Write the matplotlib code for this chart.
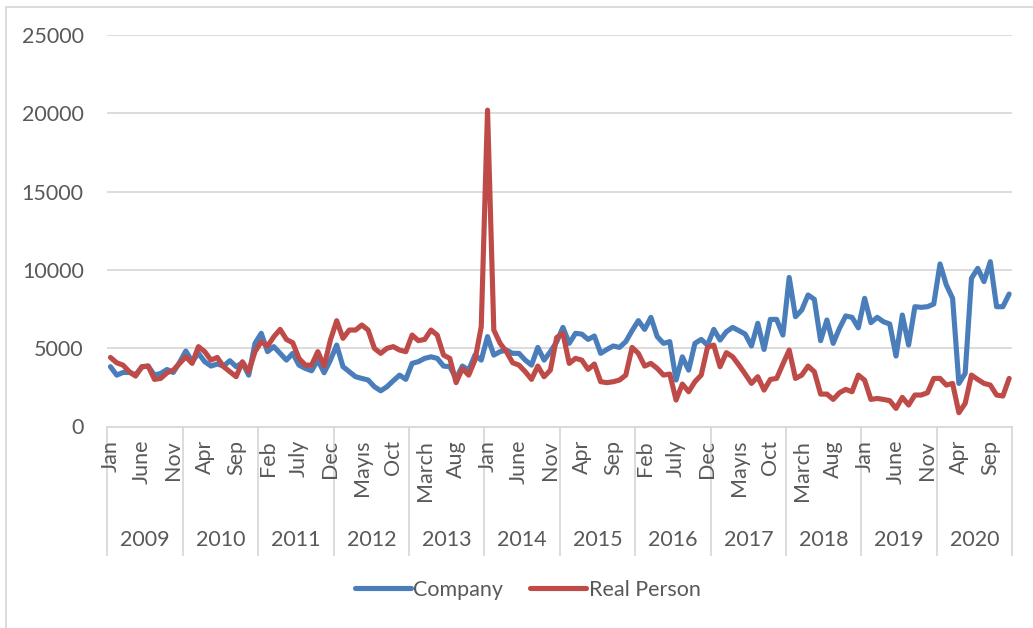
import matplotlib
matplotlib.use("Agg")
import matplotlib.pyplot as plt
import matplotlib.transforms as mtransforms
from matplotlib.patches import Rectangle

plt.rcParams['font.family'] = ['Lato', 'DejaVu Sans']

years = ['2009', '2010', '2011', '2012', '2013', '2014',
         '2015', '2016', '2017', '2018', '2019', '2020']

tick_labels = ['Jan', 'June', 'Nov', 'Apr', 'Sep', 'Feb', 'July', 'Dec', 'Mayıs', 'Oct',
               'March', 'Aug', 'Jan', 'June', 'Nov', 'Apr', 'Sep', 'Feb', 'July', 'Dec',
               'Mayıs', 'Oct', 'March', 'Aug', 'Jan', 'June', 'Nov', 'Apr', 'Sep']

company = [
    3820, 3280, 3450, 3450, 3300, 3800, 3860, 3280, 3390, 3640, 3450, 4100,   # 2009
    4820, 4140, 4670, 4140, 3860, 3990, 3860, 4200, 3820, 4070, 3280, 5310,   # 2010
    5950, 4780, 5100, 4670, 4240, 4670, 3920, 3710, 3560, 4240, 3430, 4240,   # 2011
    5200, 3820, 3500, 3180, 3070, 2970, 2540, 2280, 2540, 2920, 3280, 3010,   # 2012
    4030, 4140, 4350, 4450, 4350, 3860, 3820, 3070, 3860, 3600, 4560, 4240,   # 2013
    5740, 4560, 4780, 4880, 4670, 4670, 4240, 3920, 5050, 4240, 4780, 5400,   # 2014
    6330, 5310, 5950, 5900, 5560, 5780, 4670, 4920, 5140, 5050, 5420, 6120,   # 2015
    6760, 6200, 6970, 5740, 5310, 5420, 2970, 4450, 3600, 5310, 5560, 5200,   # 2016
    6200, 5520, 6050, 6330, 6120, 5900, 5140, 6590, 4920, 6840, 6840, 5840,   # 2017
    9520, 7010, 7440, 8400, 8120, 5480, 6800, 5310, 6270, 7060, 6970, 6300,   # 2018
    8185, 6630, 6970, 6690, 6545, 4500, 7120, 5200, 7650, 7610, 7650, 7820,   # 2019
    10380, 9040, 8185, 2750, 3390, 9460, 10100, 9250, 10525, 7650, 7650, 8460,  # 2020
]

real_person = [
    4410, 4070, 3920, 3500, 3220, 3820, 3860, 3010, 3070, 3430, 3600, 4030,   # 2009
    4455, 4030, 5100, 4780, 4240, 4410, 3820, 3500, 3180, 4135, 3500, 4780,   # 2010
    5415, 5140, 5735, 6200, 5560, 5350, 4350, 3920, 3920, 4780, 3860, 5520,   # 2011
    6755, 5630, 6160, 6160, 6480, 6160, 4990, 4670, 4990, 5100, 4880, 4780,   # 2012
    5840, 5480, 5560, 6160, 5840, 4560, 4350, 2800, 3710, 3280, 4240, 6370,   # 2013
    20200, 6160, 5310, 4780, 4070, 3920, 3500, 3010, 3860, 3180, 3600, 5680,  # 2014
    5945, 4030, 4350, 4240, 3645, 3990, 2860, 2800, 2860, 2965, 3283, 5050,   # 2015
    4670, 3860, 4030, 3710, 3283, 3350, 1690, 2710, 2220, 2860, 3283, 5060,   # 2016
    5200, 3816, 4715, 4455, 3923, 3350, 2750, 3180, 2325, 3006, 3070, 3990,   # 2017
    4880, 3070, 3283, 3860, 3497, 2070, 2070, 1730, 2155, 2370, 2220, 3283,   # 2018
    2960, 1730, 1790, 1730, 1650, 1155, 1860, 1370, 2010, 2010, 2155, 3070,   # 2019
    3070, 2645, 2750, 880, 1475, 3283, 3006, 2750, 2645, 2010, 1945, 3070,    # 2020
]

W, H = 1033, 628
fig = plt.figure(figsize=(W / 100, H / 100), dpi=100)
fig.patch.set_facecolor('white')

left_px, right_px, top_px, bot_px = 107.3, 1012.3, 35.0, 426.5
ax = fig.add_axes([left_px / W, 1 - bot_px / H, (right_px - left_px) / W, (bot_px - top_px) / H])

txt_color = '#595959'
grid_color = '#d9d9d9'
fs = 15.5

n = len(company)
x = list(range(n))
ax.plot(x, company, color='#4a7ebb', lw=3.7, solid_joinstyle='round', solid_capstyle='round',
        label='Company', zorder=3)
ax.plot(x, real_person, color='#be4b48', lw=3.7, solid_joinstyle='round', solid_capstyle='round',
        label='Real Person', zorder=4)

ax.set_xlim(-0.5, n - 0.5)
ax.set_ylim(0, 25000)
ax.set_yticks(range(0, 25001, 5000))
ax.yaxis.grid(True, color=grid_color, lw=1.3)
ax.set_axisbelow(True)
for s in ['left', 'right', 'top']:
    ax.spines[s].set_visible(False)
ax.spines['bottom'].set_color(grid_color)
ax.spines['bottom'].set_linewidth(1.3)
ax.tick_params(axis='y', length=0, pad=17, labelsize=fs, labelcolor=txt_color)
ax.set_xticks([])

trans = mtransforms.blended_transform_factory(ax.transData, ax.transAxes)
axh = bot_px - top_px
y_month = (bot_px - 440) / axh
y_sep = (bot_px - 555) / axh
y_year = (bot_px - 540) / axh

for j, lab in enumerate(tick_labels):
    ax.text(5 * j, y_month, lab, transform=trans, rotation=90, ha='center', va='top',
            fontsize=fs, color=txt_color)

for k in range(len(years) + 1):
    xb = -0.5 + 12 * k
    ax.plot([xb, xb], [0, y_sep], transform=trans, color=grid_color, lw=1.3, clip_on=False)
for k, yr in enumerate(years):
    ax.text(12 * k + 5.5, y_year, yr, transform=trans, ha='center', va='center',
            fontsize=fs, color=txt_color)

fig.legend(loc='center', bbox_to_anchor=(527.5 / W, 1 - 590 / H), ncol=2, frameon=False,
           fontsize=fs, handlelength=2.6, handletextpad=0.12, columnspacing=1.25,
           labelcolor=txt_color)

# chart area border (left/top visible)
fig.patches.append(Rectangle((6 / W, -0.1), 1.2, 1 - 7 / H + 0.1, transform=fig.transFigure,
                             fill=False, edgecolor=grid_color, lw=1.3))

fig.savefig('out.png', dpi=100, facecolor='white')
